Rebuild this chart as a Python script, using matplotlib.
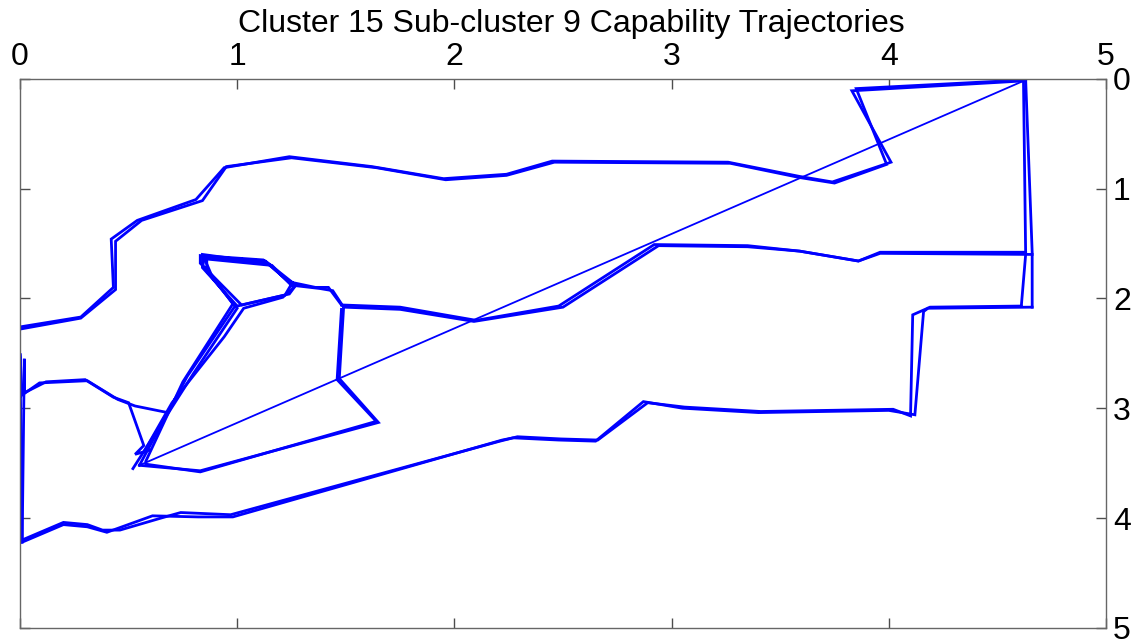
import matplotlib
matplotlib.use("Agg")
import matplotlib.pyplot as plt
import numpy as np

TITLE = "Cluster 15 Sub-cluster 9 Capability Trajectories"
XTICKS = [0, 1, 2, 3, 4, 5]
YTICKS = [0, 1, 2, 3, 4, 5]
LINE_COLOR = "#0000ff"

# top route: left start -> top-right corner
top_run1 = [(0.00, 2.26), (0.28, 2.17), (0.43, 1.90), (0.42, 1.46), (0.54, 1.29),
            (0.81, 1.10), (0.94, 0.81), (1.24, 0.71), (1.62, 0.80), (1.95, 0.91),
            (2.24, 0.87), (2.45, 0.75), (3.26, 0.76), (3.59, 0.89), (3.74, 0.94),
            (4.01, 0.76), (3.83, 0.11), (4.62, 0.02)]
top_run2 = [(0.00, 2.28), (0.28, 2.18), (0.44, 1.92), (0.44, 1.48), (0.56, 1.29),
            (0.84, 1.11), (0.95, 0.80), (1.25, 0.72), (1.64, 0.81), (1.96, 0.92),
            (2.24, 0.88), (2.46, 0.76), (3.27, 0.77), (3.59, 0.90), (3.75, 0.95),
            (3.99, 0.78), (3.85, 0.09), (4.63, 0.01)]

# right edge, going down
right_run1 = [(4.62, 0.02), (4.63, 1.60), (4.61, 2.07)]
right_run2 = [(4.63, 0.01), (4.66, 1.58), (4.66, 2.08)]

# lower route back to the left edge
low_run1 = [(4.61, 2.07), (4.19, 2.08), (4.11, 2.15), (4.10, 3.07), (4.02, 3.01),
            (3.41, 3.03), (3.06, 2.99), (2.89, 2.95), (2.66, 3.29), (2.49, 3.28),
            (2.29, 3.26), (2.21, 3.30), (0.97, 3.97), (0.74, 3.95), (0.65, 4.00),
            (0.46, 4.11), (0.38, 4.11), (0.31, 4.06), (0.20, 4.04), (0.01, 4.20)]
low_run2 = [(4.66, 2.08), (4.18, 2.09), (4.16, 2.12), (4.12, 3.06), (4.00, 3.02),
            (3.40, 3.04), (3.05, 3.00), (2.87, 2.94), (2.65, 3.30), (2.48, 3.29),
            (2.27, 3.27), (2.22, 3.29), (0.98, 3.99), (0.82, 3.99), (0.61, 3.98),
            (0.40, 4.13), (0.31, 4.08), (0.20, 4.06), (0.01, 4.22)]

# up the left edge and across to the bundle
left_run1 = [(0.01, 4.20), (0.00, 2.50), (0.01, 2.88), (0.09, 2.77), (0.31, 2.75),
             (0.45, 2.92), (0.53, 2.98), (0.68, 3.04)]
left_run2 = [(0.01, 4.22), (0.02, 2.55), (0.02, 2.86), (0.12, 2.76), (0.30, 2.74),
             (0.43, 2.90), (0.50, 2.95), (0.57, 3.34), (0.53, 3.42), (0.60, 3.38)]

# bundle up into the loop, around it, and out to the right
loop_run1 = [(0.55, 3.52), (0.77, 2.71), (0.99, 2.07), (0.84, 1.70), (0.84, 1.60),
             (1.14, 1.68), (1.25, 1.87), (1.22, 1.97), (1.00, 2.07), (0.84, 1.72),
             (0.85, 1.62), (1.15, 1.69), (1.25, 1.88), (1.38, 1.91), (1.44, 1.93),
             (1.49, 2.08)]
loop_run2 = [(0.52, 3.55), (0.80, 2.68), (1.00, 2.09), (0.86, 1.75), (0.86, 1.62),
             (1.13, 1.66), (1.27, 1.88), (1.24, 1.96), (1.02, 2.06), (0.83, 1.68),
             (0.83, 1.61), (1.12, 1.65), (1.24, 1.85), (1.36, 1.90), (1.42, 1.90),
             (1.48, 2.06)]
loop_run3 = [(0.58, 3.48), (0.75, 2.76), (0.98, 2.05), (0.88, 1.78), (0.85, 1.64),
             (1.16, 1.70), (1.26, 1.90), (1.21, 1.99), (1.03, 2.09), (0.94, 2.35),
             (0.70, 2.95), (0.57, 3.40)]

# return leg through the lower middle
ret_run1 = [(0.55, 3.52), (0.83, 3.57), (1.65, 3.13), (1.47, 2.73), (1.49, 2.08)]
ret_run2 = [(0.58, 3.51), (0.83, 3.58), (1.64, 3.12), (1.46, 2.74), (1.48, 2.10)]

# middle route to the right edge
mid_run1 = [(1.49, 2.08), (1.75, 2.10), (2.09, 2.21), (2.50, 2.08), (2.94, 1.52),
            (3.35, 1.53), (3.59, 1.57), (3.86, 1.66), (3.96, 1.58), (4.63, 1.58)]
mid_run2 = [(1.48, 2.06), (1.75, 2.08), (2.10, 2.20), (2.48, 2.07), (2.92, 1.51),
            (3.35, 1.52), (3.59, 1.57), (3.86, 1.66), (3.96, 1.59), (4.66, 1.60)]

# single jump between trajectories
jump = [(0.55, 3.52), (4.62, 0.02)]

runs = [top_run1, top_run2, right_run1, right_run2, low_run1, low_run2,
        left_run1, left_run2, loop_run1, loop_run2, loop_run3,
        ret_run1, ret_run2, mid_run1, mid_run2]

plt.rcParams["font.family"] = ["Liberation Sans", "DejaVu Sans"]

fig = plt.figure(figsize=(11.42, 6.40), dpi=100)
ax = fig.add_axes([0.0175, 0.019, 0.951, 0.858])

for r in runs:
    pts = np.array(r)
    ax.plot(pts[:, 0], pts[:, 1], color=LINE_COLOR, lw=2.0, solid_joinstyle="miter")
j = np.array(jump)
ax.plot(j[:, 0], j[:, 1], color=LINE_COLOR, lw=1.3)

ax.set_xlim(0, 5)
ax.set_ylim(5, 0)
ax.set_xticks(XTICKS)
ax.set_yticks(YTICKS)
ax.xaxis.tick_top()
ax.yaxis.tick_right()
ax.tick_params(axis="both", direction="in", length=7, width=1, color="0.3",
               labelsize=23, pad=5,
               top=True, bottom=True, left=True, right=True,
               labeltop=True, labelbottom=False, labelleft=False, labelright=True)
for s in ax.spines.values():
    s.set_color("0.4")
    s.set_linewidth(1.0)

fig.text(0.5, 0.963, TITLE, ha="center", va="center", fontsize=23)

fig.savefig("out.png", dpi=100)
